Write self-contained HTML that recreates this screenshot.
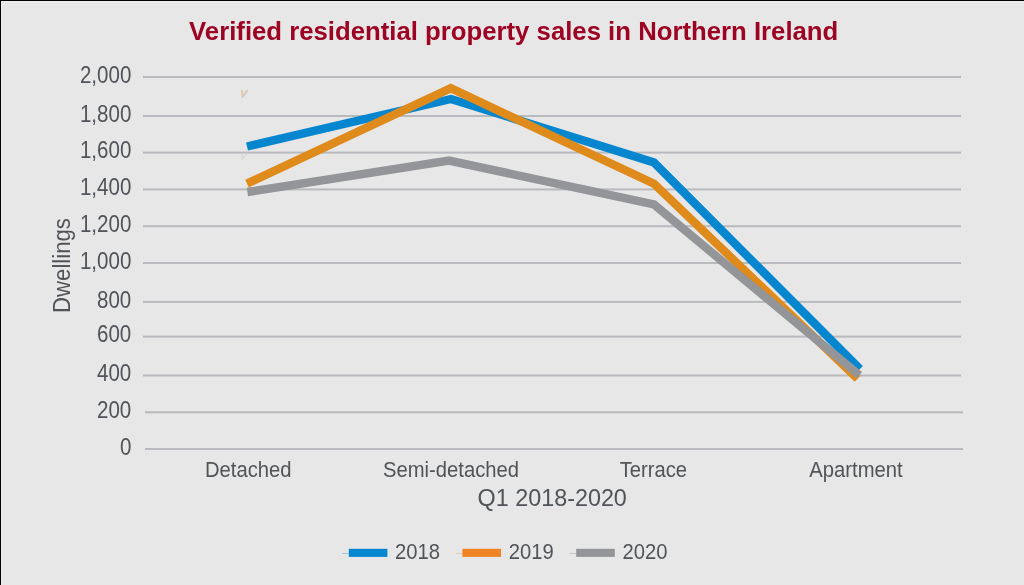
<!DOCTYPE html>
<html><head><meta charset="utf-8">
<style>
html,body{margin:0;padding:0;width:1024px;height:585px;overflow:hidden;background:#e7e7e7;}
svg{display:block;position:absolute;left:0;top:0;will-change:transform;}
text{font-family:"Liberation Sans",sans-serif;}
</style></head><body>
<svg width="1024" height="585" viewBox="0 0 1024 585">
<rect x="0" y="0" width="1024" height="585" fill="#e7e7e7"/>
<rect x="0" y="0" width="1024" height="1" fill="#000"/>
<rect x="0" y="0" width="1" height="585" fill="#000"/>
<rect x="1" y="1" width="1023" height="1" fill="#efefef"/>
<rect x="1" y="1" width="1" height="584" fill="#efefef"/>
<text transform="translate(513.7,40.4) scale(0.99,1)" text-anchor="middle" font-size="26" font-weight="bold" fill="#9d0424">Verified residential property sales in Northern Ireland</text>
<g fill="#b9babd">
<rect x="143" y="76.0" width="818" height="2"/>
<rect x="143" y="115.0" width="818" height="2"/>
<rect x="143" y="151.6" width="818" height="2"/>
<rect x="143" y="188.4" width="818" height="2"/>
<rect x="143" y="225.2" width="818" height="2"/>
<rect x="143" y="262.0" width="818" height="2"/>
<rect x="143" y="300.9" width="818" height="2"/>
<rect x="143" y="335.6" width="818" height="2"/>
<rect x="143" y="374.5" width="818" height="2"/>
<rect x="145" y="411.3" width="818" height="2"/>
<rect x="145" y="448.0" width="818" height="2"/>
</g>
<g font-size="23.0" fill="#505458" text-anchor="end">
<text transform="translate(131.3,82.7) scale(0.893,1)">2,000</text>
<text transform="translate(131.3,121.7) scale(0.893,1)">1,800</text>
<text transform="translate(131.3,158.3) scale(0.893,1)">1,600</text>
<text transform="translate(131.3,195.1) scale(0.893,1)">1,400</text>
<text transform="translate(131.3,231.9) scale(0.893,1)">1,200</text>
<text transform="translate(131.3,268.7) scale(0.893,1)">1,000</text>
<text transform="translate(131.3,307.6) scale(0.893,1)">800</text>
<text transform="translate(131.3,342.3) scale(0.893,1)">600</text>
<text transform="translate(131.3,381.2) scale(0.893,1)">400</text>
<text transform="translate(131.3,418.0) scale(0.893,1)">200</text>
<text transform="translate(131.3,454.7) scale(0.893,1)">0</text>
</g>
<text transform="translate(69.9,265.5) rotate(-90) scale(0.917,1)" text-anchor="middle" font-size="24.2" fill="#505458">Dwellings</text>
<g font-size="21.5" fill="#505458" text-anchor="middle">
<text transform="translate(248.2,476.6) scale(0.941,1)">Detached</text>
<text transform="translate(451,476.6) scale(0.941,1)">Semi-detached</text>
<text transform="translate(653.4,476.6) scale(0.941,1)">Terrace</text>
<text transform="translate(856,476.6) scale(0.941,1)">Apartment</text>
</g>
<text transform="translate(552.2,505.8) scale(0.99,1)" text-anchor="middle" font-size="23.6" fill="#505458">Q1 2018-2020</text>
<g fill="none" stroke-width="8.4" stroke-linejoin="miter" stroke-linecap="butt">
<polyline stroke="#0686cf" points="247,146.5 451,99 654,162.5 859.9,369"/>
<polyline stroke="#de8b1b" points="247,183.6 450.8,88.25 654,183.7 857.6,378.7"/>
<polyline stroke="#939598" points="247.4,192 449,160.6 654,204.5 859.4,375.3"/>
</g>
<polyline points="241.8,89.8 242.2,96.3 247.6,89.8" fill="none" stroke="#9cc3dc" stroke-width="1.2" opacity="0.8" transform="translate(0.4,0.6)"/>
<polyline points="241.8,89.8 242.2,96.3 247.6,89.8" fill="none" stroke="#f0c79a" stroke-width="1.2"/>
<polyline points="241.8,153.6 242.2,159.3 247.8,152.8" fill="none" stroke="#d0d0d2" stroke-width="1"/>
<rect x="342.3" y="553" width="6.5" height="1" fill="#9ec6e0"/>
<rect x="348.8" y="548.8" width="38.6" height="8.1" fill="#0686cf"/>
<text transform="translate(395.1,559.3) scale(0.928,1)" font-size="21.8" fill="#505458">2018</text>
<rect x="455.9" y="553" width="6.5" height="1" fill="#e8c7a8"/>
<rect x="462.4" y="548.8" width="38.6" height="8.1" fill="#f08424"/>
<text transform="translate(508.7,559.3) scale(0.928,1)" font-size="21.8" fill="#505458">2019</text>
<rect x="569.7" y="553" width="6.5" height="1" fill="#c4c4c6"/>
<rect x="576.2" y="548.8" width="38.6" height="8.1" fill="#939598"/>
<text transform="translate(622.5,559.3) scale(0.928,1)" font-size="21.8" fill="#505458">2020</text>
</svg>
</body></html>
